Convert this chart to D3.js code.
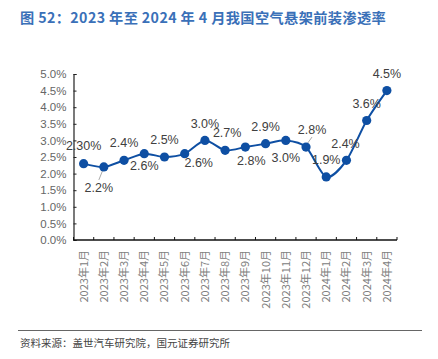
<!DOCTYPE html>
<html><head><meta charset="utf-8">
<script src="https://cdn.jsdelivr.net/npm/d3@7/dist/d3.min.js"></script>
<style>
body{margin:0;background:#fff;}
svg{display:block;}
</style></head>
<body>
<svg id="c" width="438" height="359"></svg>
<script>
const categories = ["2023年1月","2023年2月","2023年3月","2023年4月","2023年5月","2023年6月","2023年7月","2023年8月","2023年9月","2023年10月","2023年11月","2023年12月","2024年1月","2024年2月","2024年3月","2024年4月"];
const values = [2.3,2.2,2.4,2.6,2.5,2.6,3.0,2.7,2.8,2.9,3.0,2.8,1.9,2.4,3.6,4.5];
const valueLabels = ["2.30%","2.2%","2.4%","2.6%","2.5%","2.6%","3.0%","2.7%","2.8%","2.9%","3.0%","2.8%","1.9%","2.4%","3.6%","4.5%"];
const yTicks = [0,0.5,1.0,1.5,2.0,2.5,3.0,3.5,4.0,4.5,5.0];
const title = "图 52：2023 年至 2024 年 4 月我国空气悬架前装渗透率";
const source = "资料来源：盖世汽车研究院，国元证券研究所";

// label placement (dx, dy from point centre, in px) and leader flags
const labelOffsets = [[0,-18],[-5,21],[0,-18],[0,12],[0,-17],[14,9],[0,-17],[2,-18],[6,14],[0,-17],[0,17],[6,-17],[0,-17],[-1,-17],[0,-17],[0,-17]];
const leaders = {1:[[-1,3],[-5,13]], 11:[[1,-3],[6,-10]]};

const svg = d3.select("#c");
const m = {left:73.5, right:397, top:74, bottom:240};
const x = d3.scaleBand().domain(categories).range([m.left, m.right]);
const y = d3.scaleLinear().domain([0,5]).range([m.bottom, m.top]);
const cx = d => x(d) + x.bandwidth()/2;

svg.append("text").attr("x",20).attr("y",23)
  .attr("font-family","'Noto Sans CJK SC','Noto Sans',sans-serif")
  .attr("font-size",14.2).attr("font-weight","bold").attr("fill","#3a70b8")
  .attr("letter-spacing",0.4)
  .text(title);

// y axis
const yAxis = svg.append("g").attr("transform",`translate(${m.left},0)`)
  .call(d3.axisLeft(y).tickValues(yTicks).tickSize(-3).tickPadding(7).tickFormat(d=>d.toFixed(1)+"%"));
yAxis.selectAll("text").attr("font-family","'Liberation Sans',Arial,sans-serif").attr("font-size",11.5).attr("fill","#666");
yAxis.selectAll("line").attr("stroke","#222");
yAxis.select(".domain").attr("stroke","#222").attr("stroke-width",1.2);

// x axis
const xg = svg.append("g").attr("transform",`translate(0,${m.bottom})`);
xg.append("line").attr("x1",m.left).attr("x2",m.right).attr("y1",0).attr("y2",0).attr("stroke","#111").attr("stroke-width",1.4);
const edges = categories.map(c=>x(c)).concat([m.right]);
xg.selectAll("line.t").data(edges).join("line").attr("class","t")
  .attr("x1",d=>d).attr("x2",d=>d).attr("y1",0).attr("y2",-3).attr("stroke","#111");
xg.selectAll("text").data(categories).join("text")
  .attr("transform",d=>`translate(${cx(d)+4},10) rotate(-90)`)
  .attr("text-anchor","end")
  .attr("font-family","'Noto Sans CJK SC','Liberation Sans',sans-serif")
  .attr("font-size",11).attr("fill","#808080")
  .text(d=>d);

// line
const pts = categories.map((c,i)=>[cx(c), y(values[i])]);
svg.append("path").attr("d", d3.line().curve(d3.curveCardinal.tension(0.2))(pts))
  .attr("fill","none").attr("stroke","#0e4fa3").attr("stroke-width",2);

// leaders
Object.entries(leaders).forEach(([i,seg])=>{
  const p = pts[+i];
  svg.append("line").attr("x1",p[0]+seg[0][0]).attr("y1",p[1]+seg[0][1])
    .attr("x2",p[0]+seg[1][0]).attr("y2",p[1]+seg[1][1]).attr("stroke","#aaa").attr("stroke-width",1);
});

svg.selectAll("circle.p").data(pts).join("circle").attr("class","p")
  .attr("cx",d=>d[0]).attr("cy",d=>d[1]).attr("r",4.6).attr("fill","#0e4fa3");

svg.selectAll("text.lbl").data(valueLabels).join("text").attr("class","lbl")
  .attr("x",(d,i)=>pts[i][0]+labelOffsets[i][0])
  .attr("y",(d,i)=>pts[i][1]+labelOffsets[i][1])
  .attr("dy","0.35em").attr("text-anchor","middle")
  .attr("font-family","'Liberation Sans',Arial,sans-serif").attr("font-size",12.5).attr("fill","#404040")
  .text(d=>d);

// footer
svg.append("line").attr("x1",18).attr("x2",422).attr("y1",330.5).attr("y2",330.5).attr("stroke","#666").attr("stroke-width",1);
svg.append("text").attr("x",20).attr("y",347)
  .attr("font-family","'Noto Sans CJK SC',sans-serif").attr("font-size",10.5).attr("fill","#444")
  .text(source);
</script>
</body></html>
